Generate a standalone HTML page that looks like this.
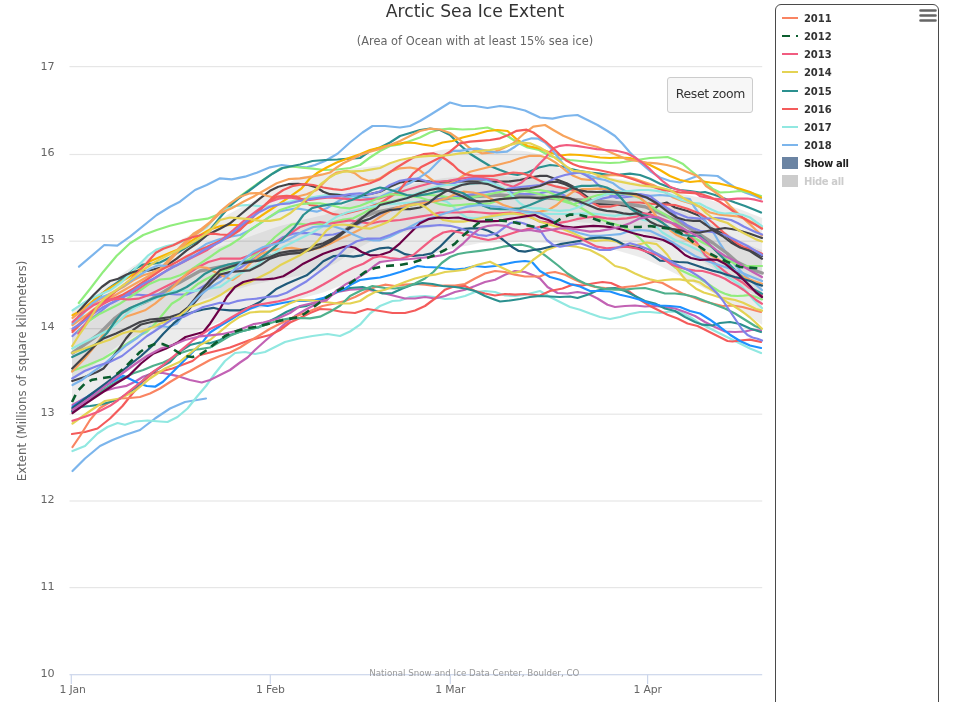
<!DOCTYPE html>
<html lang="en"><head><meta charset="utf-8"><title>Arctic Sea Ice Extent</title>
<style>
html,body{margin:0;padding:0;background:#fff;}
body{width:960px;height:702px;overflow:hidden;position:relative;font-family:"DejaVu Sans","Liberation Sans",sans-serif;}
.t{position:absolute;white-space:nowrap;line-height:1;}
.title{left:0;width:950px;text-align:center;top:3.4px;font-size:17.2px;color:#333;}
.sub{left:0;width:950px;text-align:center;top:36.3px;font-size:11.4px;color:#666;}
.yl{font-size:11.2px;color:#666;right:905.6px;text-align:right;letter-spacing:-0.2px;}
.xl{font-size:10.8px;letter-spacing:-0.15px;color:#666;top:684.5px;transform:translateX(-50%);}
.ytitle{left:22.7px;top:371px;font-size:11.8px;color:#666;transform:translate(-50%,-50%) rotate(-90deg);}
.credits{left:369.3px;top:668.9px;font-size:8.7px;color:#999;}
.btn{position:absolute;left:667.4px;top:77.3px;width:85.2px;height:36.2px;background:#f7f7f7;border:1px solid #ccc;border-radius:3px;box-sizing:border-box;}
.btn span{position:absolute;left:7.3px;top:9.6px;font-size:12.4px;letter-spacing:-0.3px;color:#333;white-space:nowrap;line-height:1;}
.legend{position:absolute;left:774.6px;top:4px;width:164.6px;height:720px;border:1.4px solid #4a4a4a;border-radius:6px;box-sizing:border-box;background:#fff;}
.li{position:absolute;left:28.3px;font-size:10px;font-weight:bold;color:#333;white-space:nowrap;line-height:1;}
.ls{position:absolute;left:6.4px;width:16px;height:2.2px;}
</style></head><body>
<svg width="960" height="702" viewBox="0 0 960 702" style="position:absolute;left:0;top:0">
<rect x="69.5" y="66.0" width="692.7" height="1.2" fill="#e6e6e6"/>
<rect x="69.5" y="153.9" width="692.7" height="1.2" fill="#e6e6e6"/>
<rect x="69.5" y="240.6" width="692.7" height="1.2" fill="#e6e6e6"/>
<rect x="69.5" y="328.1" width="692.7" height="1.2" fill="#e6e6e6"/>
<rect x="69.5" y="413.6" width="692.7" height="1.2" fill="#e6e6e6"/>
<rect x="69.5" y="500.4" width="692.7" height="1.2" fill="#e6e6e6"/>
<rect x="69.5" y="587.0" width="692.7" height="1.2" fill="#e6e6e6"/>
<path d="M72.0 310.0 L78.0 305.7 L84.0 301.4 L90.0 297.1 L96.0 292.9 L102.0 288.5 L108.0 284.1 L114.0 279.7 L120.0 275.3 L126.0 270.9 L132.0 266.8 L138.0 263.2 L144.0 259.6 L150.0 256.0 L156.0 252.4 L162.0 249.0 L168.0 246.0 L174.0 243.0 L180.0 240.0 L186.0 237.0 L192.0 234.0 L198.0 231.0 L204.0 227.8 L210.0 224.5 L216.0 221.2 L222.0 217.9 L228.0 214.6 L234.0 211.3 L240.0 208.0 L246.0 204.8 L252.0 201.6 L258.0 198.4 L264.0 195.2 L270.0 192.0 L276.0 189.0 L282.0 186.0 L288.0 183.0 L294.0 180.0 L300.0 177.0 L306.0 176.0 L312.0 175.0 L318.0 174.0 L324.0 173.0 L330.0 172.0 L336.0 171.1 L342.0 170.3 L348.0 169.4 L354.0 168.6 L360.0 167.7 L366.0 166.9 L372.0 166.2 L378.0 165.4 L384.0 164.7 L390.0 164.0 L396.0 162.3 L402.0 160.7 L408.0 159.1 L414.0 157.2 L420.0 155.3 L426.0 153.5 L432.0 152.0 L438.0 150.5 L444.0 149.4 L450.0 149.1 L456.0 148.7 L462.0 148.5 L468.0 148.6 L474.0 148.7 L480.0 148.9 L486.0 149.1 L492.0 149.2 L498.0 149.4 L504.0 149.7 L510.0 150.1 L516.0 150.5 L522.0 150.8 L528.0 151.6 L534.0 152.9 L540.0 154.7 L546.0 159.1 L552.0 163.4 L558.0 167.6 L564.0 169.8 L570.0 171.0 L576.0 172.2 L582.0 173.3 L588.0 174.2 L594.0 175.1 L600.0 176.0 L606.0 176.9 L612.0 177.8 L618.0 178.7 L624.0 179.8 L630.0 181.0 L636.0 182.2 L642.0 183.4 L648.0 184.9 L654.0 186.8 L660.0 188.6 L666.0 190.5 L672.0 192.1 L678.0 193.2 L684.0 194.4 L690.0 195.5 L696.0 196.7 L702.0 197.8 L708.0 199.5 L714.0 201.2 L720.0 203.0 L726.0 204.8 L732.0 206.5 L738.0 208.4 L744.0 210.8 L750.0 213.2 L756.0 215.5 L762.2 218.0 L762.2 325.0 L756.0 320.8 L750.0 316.8 L744.0 312.7 L738.0 308.7 L732.0 304.8 L726.0 300.9 L720.0 297.0 L714.0 293.7 L708.0 290.4 L702.0 287.1 L696.0 284.0 L690.0 281.0 L684.0 278.0 L678.0 275.0 L672.0 272.0 L666.0 269.0 L660.0 266.0 L654.0 263.3 L648.0 260.6 L642.0 257.9 L636.0 255.9 L630.0 254.2 L624.0 252.5 L618.0 250.8 L612.0 249.4 L606.0 248.2 L600.0 247.0 L594.0 245.8 L588.0 244.9 L582.0 244.7 L576.0 244.4 L570.0 244.2 L564.0 243.9 L558.0 243.6 L552.0 243.2 L546.0 242.9 L540.0 242.5 L534.0 242.3 L528.0 242.2 L522.0 242.1 L516.0 242.1 L510.0 242.2 L504.0 242.4 L498.0 242.6 L492.0 242.7 L486.0 242.8 L480.0 243.0 L474.0 244.2 L468.0 245.4 L462.0 246.6 L456.0 248.0 L450.0 249.6 L444.0 251.1 L438.0 252.7 L432.0 254.1 L426.0 255.0 L420.0 255.8 L414.0 256.7 L408.0 257.5 L402.0 258.5 L396.0 259.5 L390.0 260.5 L384.0 262.3 L378.0 265.2 L372.0 268.0 L366.0 271.6 L360.0 275.5 L354.0 279.4 L348.0 282.8 L342.0 285.2 L336.0 287.6 L330.0 290.0 L324.0 292.3 L318.0 294.0 L312.0 295.6 L306.0 297.3 L300.0 299.0 L294.0 300.4 L288.0 301.9 L282.0 303.3 L276.0 304.8 L270.0 306.0 L264.0 307.2 L258.0 308.4 L252.0 309.6 L246.0 311.6 L240.0 314.0 L234.0 316.4 L228.0 318.8 L222.0 321.2 L216.0 323.6 L210.0 326.0 L204.0 328.4 L198.0 331.3 L192.0 335.2 L186.0 339.1 L180.0 343.0 L174.0 346.3 L168.0 349.0 L162.0 351.7 L156.0 354.3 L150.0 357.0 L144.0 360.4 L138.0 363.8 L132.0 367.2 L126.0 370.7 L120.0 374.7 L114.0 378.7 L108.0 382.7 L102.0 386.7 L96.0 390.7 L90.0 394.8 L84.0 398.9 L78.0 402.9 L72.0 407.0Z" fill="#000" fill-opacity="0.075"/><path d="M72.0 334.9 L78.0 330.9 L84.0 326.6 L90.0 322.4 L96.0 318.1 L102.0 313.2 L108.0 307.8 L114.0 302.5 L120.0 297.9 L126.0 294.0 L132.0 290.7 L138.0 287.6 L144.0 284.6 L150.0 281.5 L156.0 277.9 L162.0 274.4 L168.0 271.1 L174.0 267.7 L180.0 264.5 L186.0 261.3 L192.0 258.1 L198.0 254.8 L204.0 252.4 L210.0 250.3 L216.0 248.2 L222.0 246.1 L228.0 244.1 L234.0 242.0 L240.0 239.9 L246.0 237.9 L252.0 235.8 L258.0 233.6 L264.0 231.4 L270.0 229.2 L276.0 227.2 L282.0 225.5 L288.0 223.9 L294.0 222.2 L300.0 220.5 L306.0 219.1 L312.0 217.7 L318.0 216.3 L324.0 214.9 L330.0 212.6 L336.0 210.2 L342.0 206.9 L348.0 203.3 L354.0 200.3 L360.0 197.6 L366.0 195.4 L372.0 193.7 L378.0 192.4 L384.0 191.4 L390.0 190.4 L396.0 189.0 L402.0 187.6 L408.0 186.0 L414.0 184.3 L420.0 182.7 L426.0 181.4 L432.0 180.2 L438.0 179.1 L444.0 178.1 L450.0 177.4 L456.0 177.1 L462.0 176.8 L468.0 176.6 L474.0 176.5 L480.0 176.3 L486.0 176.2 L492.0 176.1 L498.0 175.9 L504.0 176.1 L510.0 176.5 L516.0 176.9 L522.0 177.3 L528.0 177.8 L534.0 178.6 L540.0 179.6 L546.0 181.6 L552.0 183.6 L558.0 185.6 L564.0 186.8 L570.0 187.5 L576.0 188.2 L582.0 188.9 L588.0 189.5 L594.0 190.2 L600.0 190.8 L606.0 191.4 L612.0 192.1 L618.0 192.7 L624.0 193.6 L630.0 194.6 L636.0 195.6 L642.0 196.7 L648.0 198.3 L654.0 200.6 L660.0 202.9 L666.0 205.2 L672.0 207.4 L678.0 209.4 L684.0 211.9 L690.0 214.6 L696.0 217.3 L702.0 220.0 L708.0 222.9 L714.0 225.9 L720.0 229.2 L726.0 232.4 L732.0 236.2 L738.0 239.7 L744.0 242.5 L750.0 245.2 L756.0 247.7 L762.2 249.9 L762.2 299.0 L756.0 295.9 L750.0 292.6 L744.0 289.1 L738.0 285.5 L732.0 281.2 L726.0 276.7 L720.0 272.6 L714.0 268.7 L708.0 265.1 L702.0 261.6 L696.0 258.1 L690.0 254.7 L684.0 251.3 L678.0 248.1 L672.0 245.3 L666.0 242.4 L660.0 239.6 L654.0 237.0 L648.0 234.3 L642.0 232.1 L636.0 230.6 L630.0 229.3 L624.0 228.1 L618.0 226.8 L612.0 225.9 L606.0 225.1 L600.0 224.2 L594.0 223.4 L588.0 222.8 L582.0 222.4 L576.0 222.1 L570.0 221.8 L564.0 221.5 L558.0 221.1 L552.0 220.8 L546.0 220.4 L540.0 220.0 L534.0 219.8 L528.0 219.5 L522.0 219.2 L516.0 219.1 L510.0 218.9 L504.0 218.8 L498.0 218.8 L492.0 219.1 L486.0 219.3 L480.0 219.6 L474.0 220.4 L468.0 221.2 L462.0 221.9 L456.0 222.8 L450.0 223.8 L444.0 225.0 L438.0 226.3 L432.0 227.4 L426.0 228.3 L420.0 229.2 L414.0 230.3 L408.0 231.5 L402.0 232.7 L396.0 233.9 L390.0 235.0 L384.0 236.5 L378.0 238.5 L372.0 240.9 L366.0 243.9 L360.0 247.3 L354.0 251.3 L348.0 255.3 L342.0 259.3 L336.0 263.0 L330.0 266.0 L324.0 268.8 L318.0 270.5 L312.0 272.1 L306.0 273.8 L300.0 275.5 L294.0 276.6 L288.0 277.7 L282.0 278.7 L276.0 279.8 L270.0 281.1 L264.0 282.4 L258.0 283.7 L252.0 285.1 L246.0 286.7 L240.0 288.5 L234.0 290.3 L228.0 292.1 L222.0 293.9 L216.0 295.7 L210.0 297.5 L204.0 299.3 L198.0 301.7 L192.0 305.3 L186.0 309.0 L180.0 312.6 L174.0 316.0 L168.0 319.1 L162.0 322.2 L156.0 325.4 L150.0 328.5 L144.0 331.5 L138.0 334.6 L132.0 337.6 L126.0 340.7 L120.0 344.5 L114.0 348.8 L108.0 353.8 L102.0 358.8 L96.0 363.6 L90.0 367.7 L84.0 371.9 L78.0 376.0 L72.0 380.0Z" fill="#000" fill-opacity="0.06"/>
<g fill="none" stroke-width="2.2" stroke-linejoin="round" stroke-linecap="round">
<path d="M79.0 266.7 L104.3 245.0 L117.3 245.7 L130.0 236.7 L156.7 215.0 L170.0 206.7 L180.0 201.7 L195.0 190.0 L206.7 185.0 L220.0 178.3 L231.7 179.3 L245.0 176.7 L256.7 172.7 L270.0 167.3 L281.7 165.0 L293.3 166.7 L306.7 167.3 L315.0 165.0 L325.0 161.0 L337.5 153.7 L350.0 142.5 L362.5 132.5 L372.5 126.0 L385.0 126.0 L400.0 127.5 L410.0 126.0 L420.0 121.0 L430.0 115.0 L440.0 108.7 L450.0 102.5 L462.5 106.0 L475.0 106.0 L487.5 108.0 L500.0 106.0 L512.5 107.5 L525.0 110.5 L540.0 117.5 L552.5 118.7 L565.0 116.0 L577.5 115.0 L587.5 120.0 L597.5 125.0 L607.5 131.0 L615.0 136.0 L622.5 143.7 L630.0 152.5 L640.0 162.5 L650.0 171.0 L660.0 177.5 L670.0 181.0 L680.0 182.5 L690.0 178.7 L700.0 175.0 L710.0 175.5 L717.5 176.0 L725.0 181.0 L735.0 187.5 L745.0 192.5 L755.0 196.0 L761.0 198.7" stroke="#7cb5ec"/>
<path d="M78.8 303.0 L90.0 289.0 L103.3 271.7 L116.7 255.8 L130.0 243.3 L143.3 235.0 L156.7 230.0 L170.0 225.8 L190.0 221.0 L207.5 218.7 L220.0 213.7 L235.0 200.0 L257.5 183.7 L280.0 168.7 L292.0 166.5 L300.0 167.5 L312.5 168.7 L325.0 170.0 L337.5 169.5 L350.0 168.0 L360.0 165.0 L370.0 157.5 L380.0 151.0 L390.0 146.0 L400.0 144.5 L410.0 141.0 L420.0 137.5 L430.0 132.5 L440.0 129.5 L450.0 128.7 L462.5 129.5 L475.0 129.0 L487.5 127.5 L497.5 131.0 L507.5 136.0 L517.5 142.5 L527.5 147.5 L539.0 150.0 L550.0 156.0 L560.0 158.7 L570.0 160.0 L580.0 161.0 L590.0 162.0 L600.0 162.5 L610.0 163.0 L620.0 162.5 L630.0 161.0 L640.0 159.5 L650.0 158.0 L660.0 157.5 L667.5 157.0 L675.0 160.0 L682.5 163.7 L690.0 170.0 L697.5 176.0 L705.0 182.5 L712.5 188.7 L720.0 192.5 L730.0 192.0 L740.0 191.0 L750.0 192.5 L761.0 196.0" stroke="#90ed7d"/>
<path d="M78.3 317.0 L88.3 305.3 L98.3 297.0 L108.3 288.7 L116.7 282.8 L126.7 275.3 L135.0 268.7 L143.3 264.5 L153.3 263.7 L160.0 262.5 L170.0 257.5 L190.0 245.0 L200.0 240.0 L210.0 230.0 L220.0 217.5 L230.0 206.0 L240.0 197.5 L250.0 190.0 L260.0 182.5 L272.5 173.7 L282.5 168.0 L292.5 166.0 L300.0 164.5 L312.5 161.0 L325.0 160.0 L337.5 159.5 L350.0 158.7 L360.0 158.0 L370.0 151.0 L380.0 147.5 L390.0 142.5 L400.0 136.0 L410.0 133.0 L420.0 130.0 L430.0 128.7 L440.0 130.0 L450.0 135.0 L460.0 145.0 L470.0 153.7 L480.0 160.0 L490.0 166.0 L500.0 170.0 L510.0 173.7 L517.5 175.0 L527.5 172.5 L539.0 167.5 L550.0 165.0 L560.0 166.0 L570.0 168.7 L580.0 171.0 L590.0 172.5 L600.0 173.7 L610.0 175.0 L620.0 174.5 L630.0 173.7 L640.0 175.0 L650.0 178.7 L660.0 183.7 L670.0 187.5 L680.0 190.0 L690.0 191.0 L700.0 192.5 L705.0 192.0 L715.0 195.0 L725.0 198.7 L735.0 202.5 L745.0 206.0 L755.0 210.0 L761.0 212.5" stroke="#2b908f"/>
<path d="M72.5 315.3 L81.7 310.3 L91.7 302.0 L101.7 293.7 L111.7 287.0 L121.7 281.2 L131.7 275.3 L141.7 267.8 L150.0 261.2 L160.0 257.0 L170.0 252.8 L180.0 248.7 L190.0 242.0 L200.0 235.3 L210.0 229.5 L220.0 226.2 L230.0 225.0 L240.0 225.0 L250.0 222.5 L260.0 216.7 L270.0 210.0 L280.0 203.3 L290.0 196.7 L301.7 188.3 L310.0 178.3 L316.7 173.3 L326.7 167.5 L336.7 162.5 L348.3 158.3 L360.0 154.2 L370.0 150.0 L380.0 147.5 L385.0 146.0 L395.0 144.5 L405.0 142.5 L415.0 143.0 L422.5 144.5 L432.5 146.0 L442.5 142.5 L452.5 141.0 L462.5 137.5 L475.0 134.5 L487.5 131.0 L497.5 130.0 L507.5 131.0 L517.5 140.0 L527.5 146.0 L540.0 148.7 L550.0 152.5 L560.0 155.5 L570.0 154.5 L580.0 155.0 L590.0 156.0 L600.0 157.5 L610.0 158.0 L620.0 157.5 L630.0 158.0 L640.0 161.0 L650.0 165.0 L660.0 170.0 L670.0 176.0 L680.0 180.0 L690.0 182.0 L700.0 181.0 L710.0 182.5 L720.0 183.7 L730.0 186.0 L740.0 188.7 L750.0 192.0 L761.0 197.5" stroke="#f9b300"/>
<path d="M72.5 471.0 L85.0 458.5 L100.0 446.0 L112.5 440.0 L125.0 435.0 L140.0 430.0 L155.0 418.5 L170.0 408.5 L185.0 402.0 L206.0 398.5" stroke="#7cb5ec"/>
<path d="M72.5 451.0 L85.0 446.0 L97.5 433.5 L107.5 427.0 L117.5 423.0 L125.0 424.7 L135.0 421.5 L147.5 420.5 L160.0 421.5 L167.5 422.0 L177.5 417.0 L187.5 408.5 L197.5 396.0 L206.0 386.0 L215.0 373.5 L225.0 361.0 L235.0 353.0 L245.0 352.0 L255.0 354.0 L265.0 352.0 L275.0 347.0 L285.0 342.0 L299.0 338.5 L312.5 336.0 L327.5 334.0 L340.0 336.0 L350.0 331.5 L360.0 324.7 L370.0 313.5 L380.0 306.0 L392.5 301.0 L400.0 300.5 L410.0 297.0 L425.0 296.0 L435.0 297.0 L445.0 299.0 L455.0 298.5 L465.0 296.0 L475.0 292.0 L485.0 291.0 L495.0 292.0 L505.0 295.5 L515.0 296.0 L525.0 294.7 L540.0 291.0 L550.0 297.0 L560.0 302.0 L570.0 307.0 L580.0 309.7 L590.0 313.5 L600.0 317.0 L610.0 319.0 L620.0 317.0 L630.0 314.0 L640.0 312.0 L650.0 312.0 L660.0 313.0 L670.0 311.5 L680.0 312.0 L690.0 317.0 L700.0 323.5 L710.0 328.5 L720.0 333.5 L730.0 338.5 L740.0 343.5 L750.0 348.5 L761.0 353.0" stroke="#91e8e1"/>
<path d="M72.5 405.0 L85.0 398.0 L101.7 391.7 L115.0 388.0 L126.7 385.8 L135.0 381.7 L143.0 376.7 L153.0 373.0 L163.0 373.0 L176.7 375.8 L190.0 380.0 L201.7 382.5 L210.0 380.0 L220.0 375.0 L230.0 370.0 L240.0 362.5 L247.5 357.5 L255.0 350.0 L265.0 341.0 L275.0 332.5 L285.0 323.7 L295.0 316.0 L305.0 310.0 L312.5 306.0 L325.0 298.5 L337.5 292.0 L350.0 289.7 L362.5 289.0 L375.0 291.0 L385.0 293.5 L395.0 296.0 L405.0 298.5 L415.0 298.5 L425.0 297.0 L435.0 298.5 L445.0 296.0 L455.0 292.0 L465.0 289.7 L475.0 286.0 L485.0 282.0 L495.0 279.7 L505.0 274.7 L515.0 271.0 L525.0 272.0 L535.0 276.0 L540.0 278.5 L547.5 287.0 L557.5 293.0 L567.5 293.5 L577.5 292.0 L587.5 293.5 L597.5 298.5 L607.5 304.7 L615.0 307.0 L625.0 306.0 L635.0 305.5 L645.0 306.5 L655.0 306.0 L665.0 307.0 L675.0 308.5 L685.0 312.0 L695.0 316.0 L705.0 322.0 L715.0 327.0 L725.0 331.5 L735.0 332.0 L745.0 331.5 L752.5 329.7 L761.0 330.5" stroke="#c262b4"/>
<path d="M72.0 434.0 L85.0 432.0 L97.5 428.5 L110.0 418.5 L122.5 406.0 L132.5 393.5 L142.5 382.0 L152.5 373.5 L162.5 371.0 L172.5 368.5 L182.5 364.7 L192.5 361.0 L200.0 355.0 L210.0 352.5 L220.0 350.0 L230.0 347.5 L240.0 343.7 L250.0 340.0 L260.0 337.5 L270.0 335.0 L280.0 330.0 L290.0 322.5 L300.0 318.0 L310.0 313.0 L320.0 309.0 L330.0 309.5 L342.5 312.0 L355.0 313.0 L367.5 309.0 L380.0 311.0 L392.5 313.0 L405.0 313.0 L415.0 310.5 L425.0 306.0 L435.0 298.5 L445.0 289.7 L455.0 286.0 L465.0 286.0 L475.0 291.0 L485.0 293.5 L495.0 295.5 L505.0 294.0 L515.0 294.7 L525.0 294.0 L540.0 295.5 L550.0 291.0 L562.5 288.5 L572.5 284.7 L582.5 285.5 L592.5 283.5 L602.5 282.0 L611.0 283.0 L620.0 287.0 L630.0 292.0 L640.0 299.7 L650.0 306.0 L660.0 311.0 L667.5 314.7 L677.5 318.5 L687.5 323.5 L697.5 326.0 L707.5 331.0 L717.5 336.0 L727.5 341.0 L732.5 341.5 L740.0 340.5 L750.0 339.7 L761.0 342.0" stroke="#f45b5b"/>
<path d="M72.5 447.0 L80.0 436.0 L90.0 420.0 L100.0 408.0 L110.0 402.0 L120.0 398.5 L130.0 398.0 L140.0 397.0 L150.0 393.5 L160.0 388.5 L170.0 382.0 L180.0 376.0 L190.0 371.0 L200.0 365.5 L210.0 360.0 L220.0 356.0 L230.0 352.5 L240.0 347.5 L250.0 341.0 L260.0 335.0 L270.0 328.7 L280.0 323.7 L290.0 318.7 L300.0 314.7 L310.0 311.0 L322.5 306.0 L335.0 303.5 L345.0 301.0 L355.0 297.0 L365.0 292.0 L375.0 287.0 L385.0 284.7 L395.0 286.0 L405.0 284.7 L415.0 284.0 L425.0 284.7 L435.0 286.0 L445.0 285.5 L455.0 285.5 L465.0 284.0 L475.0 278.5 L485.0 273.5 L495.0 271.0 L505.0 272.0 L515.0 274.7 L525.0 276.5 L540.0 276.5 L547.5 273.0 L555.0 272.0 L565.0 274.7 L575.0 279.7 L585.0 284.0 L595.0 287.0 L605.0 288.0 L615.0 288.5 L625.0 287.0 L635.0 286.0 L645.0 284.0 L655.0 281.5 L662.5 283.0 L672.5 288.5 L682.5 293.5 L692.5 297.0 L702.5 301.0 L712.5 303.5 L722.5 306.0 L732.5 305.5 L742.5 307.0 L752.5 309.7 L761.0 312.0" stroke="#f98462"/>
<path d="M72.0 411.0 L80.0 407.0 L90.0 406.0 L100.0 404.7 L110.0 402.0 L120.0 398.5 L130.0 392.0 L140.0 383.5 L147.5 376.0 L155.0 371.0 L162.5 366.0 L170.0 362.0 L180.0 351.7 L190.0 345.0 L200.0 342.5 L210.0 343.3 L220.0 340.0 L230.0 335.0 L240.0 331.7 L250.0 329.2 L258.3 327.5 L266.7 322.5 L276.7 317.5 L286.7 311.7 L296.7 307.5 L306.7 305.8 L316.7 301.7 L326.7 296.7 L336.7 291.7 L350.0 288.0 L362.5 287.0 L372.5 289.7 L382.5 293.5 L392.5 293.0 L402.5 288.5 L412.5 284.7 L422.5 283.0 L432.5 284.0 L442.5 286.0 L455.0 287.0 L465.0 288.5 L475.0 291.0 L485.0 296.0 L495.0 299.7 L500.0 301.5 L510.0 300.5 L520.0 299.0 L530.0 297.0 L540.0 296.0 L550.0 296.5 L560.0 297.0 L570.0 296.5 L577.5 298.0 L587.5 294.7 L597.5 290.5 L607.5 288.5 L615.0 288.0 L625.0 291.0 L635.0 296.0 L645.0 301.0 L655.0 303.5 L665.0 308.5 L675.0 311.0 L685.0 317.0 L695.0 322.0 L702.5 324.7 L712.5 325.5 L720.0 323.0 L730.0 322.0 L740.0 324.0 L750.0 328.5 L761.0 332.0" stroke="#2b908f"/>
<path d="M72.5 407.0 L93.0 393.0 L110.0 383.0 L123.3 375.8 L130.0 379.0 L138.0 383.0 L146.7 386.0 L155.0 386.7 L163.0 381.7 L173.0 371.7 L183.0 361.7 L193.0 351.7 L203.0 341.7 L210.0 332.5 L220.0 326.0 L230.0 320.0 L240.0 313.7 L250.0 308.7 L260.0 305.0 L267.5 306.0 L275.0 304.5 L285.0 302.5 L295.0 301.0 L305.0 301.0 L315.0 300.0 L325.0 297.5 L335.0 292.5 L345.0 288.7 L352.5 283.7 L360.0 280.0 L370.0 278.7 L380.0 277.5 L390.0 275.0 L400.0 272.0 L410.0 268.7 L417.5 266.0 L425.0 267.0 L439.0 267.5 L445.0 268.5 L455.0 269.7 L465.0 268.5 L475.0 266.0 L485.0 267.0 L495.0 266.0 L505.0 264.0 L515.0 262.0 L525.0 261.0 L532.0 262.0 L540.0 271.0 L550.0 277.0 L560.0 279.7 L570.0 284.0 L580.0 286.5 L590.0 291.0 L600.0 291.0 L610.0 291.5 L620.0 294.7 L630.0 297.0 L640.0 299.7 L650.0 303.5 L660.0 305.5 L670.0 306.0 L680.0 307.0 L690.0 311.0 L700.0 313.5 L710.0 319.7 L720.0 327.0 L730.0 334.7 L740.0 341.0 L750.0 345.5 L761.0 348.0" stroke="#1e90ff"/>
<path d="M72.5 409.0 L86.0 401.0 L100.0 392.0 L112.0 384.5 L123.3 378.3 L133.3 373.3 L143.3 370.0 L153.3 365.8 L163.3 362.5 L170.0 359.2 L180.0 353.3 L190.0 350.0 L200.0 349.2 L210.0 347.5 L220.0 341.7 L230.0 335.8 L240.0 331.7 L250.0 329.2 L260.0 326.7 L270.0 323.3 L280.0 320.0 L290.0 318.3 L300.0 318.0 L310.0 318.3 L320.0 316.7 L330.0 311.7 L340.0 305.8 L350.0 296.0 L360.0 291.0 L372.5 286.0 L385.0 288.0 L395.0 288.5 L405.0 287.0 L415.0 283.5 L425.0 278.5 L433.3 272.0 L441.7 263.0 L450.0 257.0 L458.0 254.0 L466.7 252.5 L480.0 250.8 L493.0 249.0 L503.0 246.7 L513.0 245.0 L521.7 244.7 L530.0 246.7 L540.0 251.7 L546.7 256.7 L558.7 266.0 L567.5 273.5 L577.5 279.7 L585.0 283.5 L595.0 286.5 L605.0 289.0 L615.0 289.7 L625.0 289.7 L635.0 288.5 L645.0 288.0 L655.0 290.5 L665.0 293.5 L675.0 293.5 L685.0 294.7 L695.0 297.0 L705.0 301.0 L715.0 304.7 L725.0 308.5 L735.0 313.5 L745.0 319.7 L755.0 326.0 L761.0 328.5" stroke="#4fb08c"/>
<path d="M72.5 423.5 L90.0 411.0 L105.0 401.0 L120.0 398.5 L135.0 391.0 L150.0 378.5 L165.0 368.5 L180.0 361.7 L190.0 353.3 L200.0 345.0 L210.0 340.0 L220.0 331.7 L230.0 323.3 L240.0 316.7 L250.0 312.5 L260.0 311.7 L270.0 311.7 L280.0 308.3 L290.0 303.3 L296.7 300.8 L300.0 300.0 L312.5 300.5 L325.0 302.0 L337.5 303.5 L350.0 303.5 L360.0 301.0 L367.5 296.0 L375.0 292.0 L385.0 289.7 L395.0 286.0 L405.0 282.0 L415.0 278.5 L425.0 276.0 L435.0 274.7 L445.0 272.0 L455.0 271.0 L465.0 269.7 L476.7 265.0 L490.0 261.7 L500.0 266.7 L513.0 273.0 L520.0 271.7 L533.0 260.0 L546.7 250.0 L560.0 245.0 L576.7 246.7 L590.0 250.0 L603.0 256.7 L615.0 266.0 L625.0 268.5 L635.0 273.5 L643.0 277.0 L650.0 279.4 L657.5 281.0 L665.0 280.0 L672.5 279.4 L680.0 279.4 L687.5 280.6 L693.7 280.6 L700.0 282.5 L705.0 286.0 L710.0 288.7 L716.0 292.5 L721.0 297.5 L727.5 302.5 L733.7 306.0 L740.0 310.0 L745.0 313.7 L750.0 317.5 L755.0 322.0 L758.7 325.6 L762.0 328.7" stroke="#e4d354"/>
<path d="M72.5 310.3 L85.0 302.0 L98.3 295.3 L110.0 290.3 L121.7 282.0 L131.7 272.0 L140.0 263.7 L148.3 255.3 L156.7 249.5 L166.7 246.0 L176.7 243.7 L186.7 239.5 L196.7 233.7 L206.7 227.0 L214.0 219.0 L220.0 213.3 L228.3 208.3 L236.7 205.8 L246.7 205.0 L256.7 205.8 L266.7 206.7 L276.7 205.0 L286.7 202.5 L296.7 200.0 L306.7 198.3 L316.7 196.7 L326.7 195.0 L336.7 194.2 L346.7 195.8 L356.7 198.3 L366.7 200.8 L373.3 203.3 L380.0 204.2 L390.0 204.2 L400.0 203.3 L410.0 202.5 L420.0 201.7 L430.0 200.8 L440.0 200.0 L446.7 201.7 L453.3 206.7 L460.0 213.3 L466.7 217.5 L473.3 218.3 L490.0 217.0 L510.0 214.0 L530.0 213.0 L550.0 214.0 L570.0 214.0 L590.0 213.3 L606.7 215.0 L615.0 215.8 L623.3 214.2 L633.3 215.8 L643.3 220.0 L650.0 221.0 L662.5 232.5 L675.0 240.0 L687.5 245.0 L700.0 251.0 L710.0 260.0 L717.5 268.7 L725.0 275.0 L732.5 280.0 L740.0 285.0 L747.5 292.5 L753.7 300.0 L758.7 305.0 L762.0 308.0" stroke="#91e8e1"/>
<path d="M78.0 312.0 L93.3 295.3 L101.7 287.0 L110.0 281.0 L118.3 278.7 L126.7 274.5 L133.3 272.0 L140.0 270.3 L146.7 271.0 L153.3 269.5 L160.0 267.8 L166.7 265.3 L176.7 258.7 L186.7 250.3 L196.7 243.7 L206.7 235.3 L220.0 228.7 L230.0 223.3 L240.0 215.0 L250.0 206.7 L260.0 198.3 L270.0 190.8 L278.3 186.7 L288.3 184.2 L298.3 183.8 L308.3 185.0 L316.7 187.5 L323.3 191.7 L330.0 194.2 L340.0 195.0 L350.0 196.0 L360.0 196.0 L370.0 194.0 L380.0 191.7 L390.0 186.7 L400.0 182.5 L410.0 180.8 L420.0 180.8 L430.0 181.7 L440.0 182.0 L450.0 181.7 L460.0 181.3 L470.0 181.3 L480.0 181.7 L490.0 181.7 L500.0 181.7 L510.0 181.3 L520.0 180.0 L530.0 177.5 L540.0 175.8 L546.7 175.8 L553.3 178.3 L560.0 180.8 L566.7 183.3 L573.3 186.7 L580.0 191.7 L586.7 196.7 L593.3 201.7 L600.0 204.2 L610.0 204.2 L620.0 205.0 L630.0 206.7 L640.0 211.7 L646.7 215.0 L653.3 210.0 L660.0 204.2 L666.7 202.5 L675.0 207.5 L687.5 211.0 L700.0 216.0 L705.0 221.0 L710.0 227.5 L717.5 231.0 L725.0 235.0 L731.0 240.0 L737.5 245.0 L743.7 248.0 L750.0 250.6 L756.0 253.0 L762.0 256.0" stroke="#434348"/>
<path d="M72.5 317.8 L85.0 308.7 L98.3 300.3 L110.0 293.7 L123.3 287.0 L133.3 280.3 L143.3 275.3 L151.7 272.8 L160.0 268.7 L166.7 262.0 L173.3 254.5 L180.0 247.0 L186.7 240.3 L193.3 233.7 L201.7 228.7 L210.0 222.0 L220.0 211.7 L230.0 203.3 L240.0 196.7 L250.0 193.3 L258.3 193.0 L266.7 195.8 L276.7 198.3 L286.7 197.5 L296.7 196.7 L306.7 194.2 L316.7 190.0 L323.3 183.3 L330.0 176.7 L336.7 172.5 L346.7 170.8 L355.0 173.3 L361.7 178.3 L368.3 180.8 L375.0 180.0 L380.0 178.3 L390.0 171.7 L400.0 168.3 L410.0 167.5 L418.3 169.2 L426.7 175.8 L433.3 180.8 L440.0 184.2 L450.0 183.3 L456.7 180.0 L463.3 175.8 L470.0 171.7 L480.0 169.2 L490.0 166.7 L500.0 164.2 L510.0 161.7 L520.0 158.3 L530.0 155.8 L540.0 155.8 L548.3 158.3 L556.7 163.3 L565.0 170.0 L573.3 175.8 L581.7 179.2 L590.0 180.0 L596.7 177.5 L603.3 175.8 L613.3 175.0 L623.3 175.8 L633.3 178.3 L643.3 181.7 L653.3 185.0 L660.0 188.3 L666.7 193.3 L673.3 197.5 L681.7 200.8 L690.0 203.3 L700.0 206.7 L710.0 212.5 L720.0 214.7 L730.0 215.6 L737.5 216.5 L745.0 218.7 L752.5 222.5 L757.5 225.6 L762.0 228.0" stroke="#f7a35c"/>
<path d="M72.5 325.0 L85.0 316.0 L98.0 306.0 L112.0 297.0 L126.0 289.0 L140.0 281.0 L152.0 274.0 L163.0 268.0 L172.0 258.0 L182.0 247.0 L192.0 237.0 L203.0 229.0 L212.0 221.0 L220.0 213.3 L231.7 208.3 L243.3 201.7 L253.3 196.7 L265.0 190.0 L276.7 183.3 L288.3 179.2 L300.0 178.3 L311.7 176.7 L321.7 174.7 L330.0 172.5 L336.7 167.5 L343.3 163.3 L351.7 159.2 L360.0 155.0 L370.0 151.7 L380.0 149.0 L387.5 146.0 L400.0 141.0 L410.0 136.0 L420.0 131.0 L430.0 128.7 L440.0 129.5 L450.0 133.0 L460.0 140.0 L470.0 148.3 L481.7 153.3 L493.3 152.5 L503.3 148.3 L513.3 143.3 L523.3 134.2 L533.3 126.7 L545.0 125.0 L553.3 130.0 L563.3 135.8 L575.0 140.8 L586.7 144.2 L596.7 146.7 L606.7 150.8 L616.7 155.0 L626.7 159.2 L636.7 160.8 L646.7 162.5 L656.7 163.3 L666.7 165.0 L676.7 167.5 L686.7 171.7 L696.7 175.8 L700.0 178.3 L706.0 186.0 L715.0 192.0 L722.5 197.5 L730.0 206.0 L737.5 213.0 L743.7 218.7 L750.0 224.4 L756.0 230.0 L762.0 235.6" stroke="#f7a35c"/>
<path d="M72.5 323.7 L81.7 315.3 L91.7 303.7 L101.7 297.0 L111.7 293.7 L121.7 287.0 L131.7 280.3 L141.7 273.7 L150.0 268.7 L158.3 265.3 L168.3 266.2 L176.7 265.3 L186.7 258.7 L196.7 250.3 L206.7 243.7 L220.0 239.0 L230.0 236.7 L240.0 235.0 L250.0 230.0 L260.0 223.3 L270.0 216.7 L278.3 211.7 L286.7 210.0 L296.7 208.3 L306.7 210.0 L316.7 211.7 L326.7 208.3 L335.0 203.3 L343.3 198.3 L353.3 195.8 L361.7 196.7 L370.0 198.3 L380.0 197.0 L395.0 190.0 L410.0 183.0 L418.3 178.3 L428.3 171.7 L436.7 163.3 L445.0 155.0 L453.3 150.8 L460.0 150.8 L470.0 149.2 L476.7 148.7 L486.7 150.8 L496.7 152.5 L506.7 151.7 L515.0 146.7 L523.3 140.8 L531.7 138.3 L538.3 138.7 L545.0 142.5 L551.7 149.2 L558.3 157.5 L565.0 166.7 L571.7 173.3 L580.0 172.5 L588.3 175.0 L596.7 178.3 L605.0 180.0 L613.3 183.3 L620.0 188.3 L623.3 190.0 L630.0 193.3 L640.0 195.0 L650.0 195.8 L660.0 195.0 L670.0 195.8 L680.0 197.5 L690.0 199.2 L693.7 206.0 L700.0 215.0 L705.0 221.0 L710.0 227.5 L715.0 235.0 L720.0 243.7 L725.0 251.0 L731.0 258.5 L735.0 265.0 L742.5 273.0 L750.0 280.0 L756.0 285.0 L762.0 290.0" stroke="#7cb5ec"/>
<path d="M72.5 322.0 L81.7 313.7 L93.3 305.3 L105.0 300.3 L115.0 298.7 L126.7 295.3 L136.7 290.3 L146.7 283.7 L156.7 277.0 L166.7 270.3 L176.7 265.3 L186.7 260.3 L196.7 255.3 L206.7 250.3 L220.0 241.0 L233.3 230.0 L246.7 218.3 L260.0 208.3 L270.0 201.7 L280.0 198.3 L290.0 197.5 L300.0 199.2 L310.0 200.0 L320.0 198.3 L330.0 197.5 L340.0 198.3 L350.0 199.2 L360.0 200.0 L370.0 199.2 L380.0 198.3 L400.0 192.0 L420.0 186.0 L435.0 182.0 L448.3 180.8 L458.3 179.2 L468.3 177.5 L480.0 177.5 L490.0 179.2 L496.7 180.0 L505.0 184.2 L513.3 186.7 L521.7 182.5 L530.0 175.0 L536.7 166.7 L540.0 163.3 L545.0 158.3 L550.0 151.7 L553.3 148.3 L560.0 145.8 L566.7 145.0 L576.7 145.8 L586.7 147.5 L596.7 149.2 L606.7 150.0 L616.7 150.8 L626.7 153.3 L635.0 157.5 L643.3 163.3 L650.0 169.2 L656.7 175.8 L663.3 181.7 L670.0 186.7 L678.3 190.0 L686.7 191.7 L695.0 192.5 L700.0 196.2 L712.5 198.7 L725.0 199.7 L737.5 198.7 L747.5 198.5 L755.0 199.7 L762.0 201.5" stroke="#f15c80"/>
<path d="M72.5 332.0 L85.0 320.0 L100.0 305.0 L115.0 292.0 L130.0 280.0 L145.0 265.0 L155.8 252.8 L163.3 248.7 L173.3 245.3 L183.3 240.3 L193.3 237.0 L203.3 234.5 L213.3 233.7 L220.0 234.5 L230.0 235.0 L236.7 231.7 L245.0 225.0 L253.3 216.7 L263.3 206.7 L273.3 196.7 L283.3 190.0 L293.3 185.8 L303.3 184.2 L313.3 185.0 L323.3 187.5 L333.3 189.2 L341.7 190.0 L350.0 188.3 L360.0 185.8 L370.0 183.3 L380.0 179.2 L388.3 173.3 L396.7 167.5 L405.0 162.5 L413.3 157.5 L423.3 154.2 L433.3 153.3 L440.0 155.8 L446.7 160.0 L453.3 165.0 L458.3 170.0 L465.0 174.2 L473.3 175.8 L483.3 175.8 L493.3 175.8 L503.3 174.2 L513.3 172.5 L521.7 173.3 L530.0 175.8 L540.0 180.8 L548.3 184.2 L556.7 186.7 L565.0 188.3 L573.3 190.0 L580.0 193.3 L586.7 198.3 L593.3 203.3 L600.0 206.7 L610.0 206.7 L620.0 204.2 L630.0 202.5 L640.0 202.5 L650.0 203.7 L662.5 204.4 L675.0 205.0 L687.5 208.7 L700.0 213.7 L706.0 217.5 L712.5 222.5 L718.7 228.0 L725.0 233.7 L731.0 238.7 L737.5 243.7 L743.7 247.0 L750.0 248.7 L756.0 251.0 L762.0 253.7" stroke="#f45b5b"/>
<path d="M72.5 330.3 L83.3 320.3 L93.3 310.3 L103.3 303.7 L113.3 298.7 L123.3 294.5 L133.3 288.7 L143.3 282.0 L153.3 275.3 L163.3 268.7 L176.7 262.0 L186.7 256.2 L196.7 251.2 L206.7 247.0 L220.0 241.0 L230.0 236.7 L240.0 230.0 L248.3 221.7 L256.7 213.3 L266.7 203.3 L276.7 196.7 L286.7 195.8 L296.7 196.7 L303.3 200.0 L310.0 205.0 L316.7 205.8 L323.3 210.0 L333.3 214.2 L340.0 215.0 L350.0 212.5 L360.0 210.0 L370.0 206.7 L380.0 203.3 L390.0 197.0 L398.3 191.7 L405.0 183.3 L413.3 173.3 L421.7 166.7 L431.7 161.7 L441.7 156.7 L450.0 151.7 L460.0 143.3 L470.0 141.7 L480.0 140.8 L490.0 140.0 L500.0 138.3 L508.3 135.0 L516.7 130.8 L526.7 129.7 L533.3 132.5 L540.0 137.5 L546.7 142.5 L553.3 148.3 L560.0 155.0 L566.7 160.8 L573.3 164.2 L580.0 166.7 L588.3 168.3 L598.3 170.0 L610.0 172.5 L620.0 175.0 L630.0 178.3 L640.0 181.7 L650.0 185.8 L660.0 189.2 L670.0 190.8 L680.0 192.5 L690.0 193.0 L700.0 193.7 L710.0 197.0 L720.0 202.0 L727.5 207.0 L735.0 212.5 L742.5 217.5 L750.0 222.0 L756.0 225.0 L762.0 228.7" stroke="#f45b5b"/>
<path d="M72.5 328.7 L83.3 322.0 L93.3 313.7 L103.3 307.0 L113.3 302.0 L123.3 297.0 L133.3 290.3 L143.3 283.7 L153.3 278.7 L163.3 272.8 L173.3 267.0 L183.3 262.0 L193.3 256.2 L203.3 250.3 L213.3 245.3 L220.0 242.0 L230.0 235.0 L240.0 226.7 L250.0 218.3 L260.0 211.7 L270.0 206.7 L280.0 204.2 L290.0 203.3 L300.0 200.8 L310.0 199.2 L320.0 197.5 L330.0 196.7 L340.0 195.8 L350.0 194.2 L360.0 193.3 L370.0 194.2 L380.0 191.5 L390.0 185.0 L400.0 180.8 L410.0 179.2 L418.3 178.7 L428.3 181.7 L438.3 184.2 L448.3 185.0 L458.3 181.7 L468.3 179.2 L476.7 178.7 L486.7 180.0 L496.7 185.0 L505.0 190.0 L513.3 193.3 L521.7 194.2 L530.0 194.2 L540.0 193.3 L546.7 191.7 L553.3 191.7 L560.0 193.3 L568.3 197.5 L576.7 201.7 L583.3 204.2 L590.0 203.3 L596.7 200.8 L603.3 198.3 L615.0 196.0 L630.0 194.0 L640.0 194.0 L650.0 196.0 L662.5 205.6 L675.0 212.5 L687.5 217.5 L700.0 218.7 L707.5 218.5 L715.0 218.0 L722.5 218.5 L731.0 220.0 L737.5 223.0 L743.7 226.5 L750.0 229.4 L756.0 232.2 L762.0 234.6" stroke="#8085e9"/>
<path d="M72.5 353.0 L98.0 335.0 L115.0 318.0 L123.0 312.0 L150.0 300.0 L175.0 285.0 L200.0 271.0 L225.0 266.0 L250.0 261.0 L275.0 255.0 L300.0 252.0 L325.0 245.0 L337.5 237.5 L350.0 226.0 L362.5 217.5 L375.0 212.5 L400.0 207.5 L420.0 202.5 L450.0 198.0 L500.0 195.0 L539.0 197.5 L580.0 200.0 L620.0 203.0 L645.0 206.7 L680.0 222.0 L713.0 243.0 L726.7 253.0 L736.7 261.7 L753.0 270.0 L762.2 273.0" fill="none" stroke="#999" stroke-width="3.4" stroke-linejoin="round"/>
<path d="M72.5 336.0 L90.0 320.0 L110.0 304.0 L126.7 295.3 L135.0 294.5 L146.7 295.3 L156.7 294.5 L166.7 293.7 L176.7 294.5 L186.7 294.5 L196.7 290.3 L205.0 285.3 L213.3 280.3 L220.0 277.0 L240.0 268.0 L255.0 258.0 L268.0 247.0 L283.3 237.0 L293.3 233.7 L303.3 232.8 L313.3 233.7 L323.3 235.3 L333.3 234.5 L343.3 232.0 L353.3 227.0 L361.7 222.0 L370.0 218.7 L380.0 214.0 L400.0 208.0 L420.0 203.0 L440.0 199.0 L460.0 196.0 L480.0 193.0 L500.0 190.0 L520.0 187.0 L540.0 185.0 L548.3 181.7 L556.7 177.5 L565.0 175.0 L573.3 173.3 L580.0 172.5 L586.7 175.8 L593.3 180.0 L598.3 185.0 L606.7 193.0 L616.7 198.0 L626.7 197.0 L636.7 196.0 L646.7 197.5 L656.7 201.7 L665.0 206.7 L673.3 213.3 L680.0 220.0 L686.7 225.0 L693.3 228.3 L700.0 230.8 L712.0 232.0 L725.0 235.0 L737.5 241.0 L747.5 246.0 L762.0 255.0" stroke="#8085e9"/>
<path d="M78.3 332.0 L90.0 320.3 L100.0 313.7 L110.0 308.7 L120.0 303.7 L130.0 297.0 L140.0 290.3 L150.0 283.7 L160.0 279.5 L170.0 278.7 L180.0 275.3 L190.0 270.3 L200.0 263.7 L210.0 257.0 L220.0 250.0 L230.0 245.0 L240.0 238.3 L250.0 230.0 L260.0 223.3 L270.0 216.7 L280.0 210.0 L290.0 206.7 L300.0 204.2 L310.0 203.3 L320.0 203.3 L330.0 205.0 L340.0 207.5 L350.0 208.3 L360.0 205.8 L370.0 201.7 L380.0 197.5 L390.0 194.2 L400.0 195.0 L410.0 195.8 L420.0 197.5 L430.0 200.8 L440.0 204.2 L450.0 205.8 L460.0 205.0 L470.0 204.2 L480.0 204.2 L490.0 203.3 L500.0 200.0 L510.0 195.8 L520.0 191.7 L530.0 190.0 L540.0 190.0 L548.3 191.7 L556.7 195.8 L565.0 200.0 L573.3 204.2 L581.7 208.3 L590.0 213.3 L598.3 218.3 L606.7 221.7 L615.0 224.2 L623.3 226.7 L631.7 231.7 L640.0 238.3 L646.7 245.0 L653.3 251.7 L660.0 255.0 L667.5 261.0 L675.0 267.5 L682.5 271.0 L691.0 275.0 L700.0 278.7 L706.0 282.5 L712.5 287.0 L718.7 291.0 L725.0 293.7 L731.0 295.6 L737.5 296.0 L743.7 295.6 L750.0 295.0 L756.0 297.0 L762.0 299.4" stroke="#90ed7d"/>
<path d="M72.2 371.0 L88.0 365.0 L103.5 358.5 L122.0 347.0 L141.0 334.7 L146.7 332.0 L155.0 323.7 L163.3 313.7 L171.7 303.7 L180.0 298.7 L190.0 290.3 L198.3 283.7 L206.7 278.7 L215.0 274.5 L220.0 272.0 L230.0 268.7 L240.0 264.5 L250.0 258.7 L258.3 252.0 L266.7 245.3 L275.0 237.0 L283.3 230.3 L291.7 224.5 L298.3 223.7 L306.7 224.5 L315.0 223.7 L323.3 224.5 L333.3 222.0 L343.3 219.5 L353.3 218.3 L363.3 213.3 L373.3 207.5 L380.0 203.3 L390.0 201.7 L400.0 199.2 L410.0 196.7 L420.0 195.0 L430.0 195.0 L440.0 195.8 L450.0 197.5 L460.0 198.3 L470.0 197.5 L480.0 196.0 L490.0 194.0 L500.0 192.0 L510.0 190.0 L520.0 190.0 L535.0 193.0 L550.0 197.0 L562.0 201.0 L573.3 204.2 L580.0 201.7 L590.0 197.5 L598.3 195.0 L606.7 194.2 L615.0 193.3 L623.3 193.3 L631.7 195.0 L640.0 198.3 L648.3 204.2 L656.7 210.0 L666.0 215.0 L682.5 227.5 L691.0 236.0 L702.5 242.5 L712.5 247.5 L720.0 253.7 L727.5 260.0 L737.5 265.0 L747.5 266.0 L762.0 266.0" stroke="#90ed7d"/>
<path d="M78.3 333.7 L88.3 320.3 L98.3 307.0 L108.3 300.3 L118.3 298.7 L128.3 299.5 L138.3 298.7 L148.3 295.3 L158.3 290.3 L168.3 285.3 L178.3 280.3 L188.3 273.7 L198.3 267.0 L208.3 262.0 L220.0 258.7 L230.0 258.7 L240.0 258.7 L250.0 255.3 L260.0 250.3 L270.0 245.3 L280.0 240.3 L290.0 233.7 L300.0 227.0 L310.0 223.7 L320.0 222.0 L330.0 223.7 L340.0 222.0 L350.0 220.3 L360.0 222.0 L370.0 223.7 L380.0 221.5 L390.0 220.8 L400.0 220.0 L410.0 218.3 L420.0 216.7 L430.0 215.0 L440.0 212.5 L450.0 212.5 L460.0 212.5 L470.0 211.7 L480.0 212.5 L490.0 213.3 L500.0 213.3 L510.0 212.5 L520.0 213.3 L530.0 216.7 L540.0 221.7 L556.7 223.3 L566.7 221.7 L576.7 219.2 L586.7 217.5 L596.7 216.7 L606.7 218.3 L616.7 219.2 L626.7 218.3 L636.7 216.7 L643.3 213.3 L650.0 214.2 L656.7 216.7 L670.0 222.0 L685.0 232.0 L697.0 243.0 L705.0 255.0 L712.5 261.0 L720.0 267.5 L727.5 273.7 L735.0 278.0 L742.5 282.5 L748.7 287.5 L755.0 291.0 L762.0 295.0" stroke="#f15c80"/>
<path d="M72.2 371.6 L84.7 358.5 L97.0 343.5 L105.0 332.0 L115.0 323.7 L125.0 317.0 L135.0 313.7 L145.0 310.3 L155.0 303.7 L165.0 295.3 L173.3 287.0 L180.0 280.3 L186.7 273.7 L193.3 268.7 L200.0 267.0 L206.7 267.8 L213.3 271.2 L220.0 274.5 L226.7 277.8 L232.5 280.0 L238.3 276.2 L245.0 268.7 L253.3 260.3 L261.7 253.7 L271.7 250.3 L281.7 248.7 L291.7 247.8 L301.7 249.5 L310.0 250.3 L320.0 247.8 L330.0 243.7 L340.0 238.7 L350.0 234.5 L360.0 229.5 L370.0 223.7 L380.0 217.0 L388.3 211.7 L396.7 207.5 L406.7 205.0 L416.7 204.2 L426.7 202.5 L436.7 200.8 L446.7 198.3 L455.0 194.2 L463.3 191.7 L473.3 192.5 L483.3 195.0 L493.3 200.0 L503.3 205.0 L513.3 208.3 L523.3 210.8 L533.3 212.5 L540.0 211.7 L548.3 210.0 L556.7 205.0 L565.0 197.5 L573.3 191.7 L581.7 189.2 L590.0 189.2 L598.3 188.7 L606.7 189.2 L615.0 190.8 L623.3 192.5 L631.7 194.2 L640.0 197.5 L646.7 203.3 L651.7 210.0 L656.7 216.7 L663.3 223.3 L670.0 230.0 L676.7 235.0 L683.3 238.3 L690.0 241.7 L700.0 246.7 L702.5 250.0 L710.0 255.0 L717.5 258.7 L725.0 263.7 L732.5 270.0 L740.0 275.0 L747.5 278.7 L753.7 281.0 L762.0 283.7" stroke="#f7a35c"/>
<path d="M72.2 348.5 L84.7 342.0 L97.0 336.0 L109.7 329.5 L118.3 322.0 L126.7 313.7 L135.0 307.8 L145.0 302.0 L155.0 298.7 L163.3 295.3 L173.3 291.2 L181.7 290.3 L191.7 291.2 L198.3 290.3 L210.0 288.5 L220.0 287.0 L228.3 281.2 L236.7 275.3 L246.7 270.3 L256.7 265.3 L265.0 258.7 L273.3 254.5 L283.3 247.0 L293.3 242.0 L303.3 237.0 L313.3 232.0 L321.7 227.0 L326.7 223.3 L336.7 216.7 L346.7 212.5 L356.7 210.0 L366.7 207.5 L376.7 205.8 L390.0 203.0 L405.0 198.0 L418.0 193.0 L426.7 190.0 L436.7 186.7 L446.7 185.0 L456.7 185.0 L466.7 184.2 L476.7 183.3 L486.7 181.7 L496.7 185.0 L506.7 190.0 L513.3 196.7 L520.0 203.3 L526.7 207.5 L533.3 208.3 L540.0 208.3 L550.0 210.0 L560.0 210.8 L570.0 210.0 L580.0 206.7 L590.0 201.7 L598.3 197.5 L606.7 194.2 L615.0 192.5 L623.3 191.7 L631.7 190.8 L640.0 190.0 L648.3 190.0 L656.7 190.8 L665.0 192.5 L673.3 195.8 L681.7 200.0 L690.0 202.5 L700.0 203.7 L706.0 207.0 L712.5 210.0 L718.7 212.7 L725.0 213.5 L731.0 213.0 L737.5 214.0 L743.7 215.2 L750.0 217.5 L756.0 222.0 L762.0 226.2" stroke="#91e8e1"/>
<path d="M72.2 357.0 L84.7 351.0 L97.0 343.5 L107.0 333.0 L116.0 320.0 L122.0 313.0 L130.0 308.0 L146.7 301.0 L156.7 297.0 L166.7 294.5 L176.7 292.0 L186.7 287.0 L196.7 280.3 L205.0 273.7 L213.3 269.5 L220.0 267.0 L228.3 264.5 L236.7 262.8 L246.7 261.7 L256.7 260.3 L266.7 253.7 L276.7 245.3 L286.7 235.3 L295.0 226.7 L303.3 215.0 L311.7 208.3 L321.7 205.8 L331.7 204.2 L341.7 203.3 L351.7 200.0 L361.7 195.8 L371.7 190.0 L380.0 187.5 L388.3 189.2 L396.7 191.7 L406.7 195.0 L416.7 195.8 L426.7 194.2 L436.7 191.7 L446.7 190.0 L455.0 190.8 L463.3 193.3 L470.0 197.5 L476.7 201.7 L483.3 205.8 L490.0 208.3 L500.0 209.2 L510.0 209.2 L520.0 208.3 L530.0 205.0 L540.0 200.8 L548.3 197.5 L556.7 195.0 L565.0 191.7 L573.3 187.5 L581.7 185.8 L590.0 185.8 L598.3 185.3 L606.7 187.5 L613.3 190.8 L620.0 196.7 L625.0 202.5 L630.0 208.3 L636.7 212.5 L643.3 215.0 L650.0 216.7 L656.7 219.2 L663.3 223.3 L670.0 228.3 L676.7 232.5 L683.3 235.0 L690.0 235.8 L700.0 236.0 L710.0 245.0 L720.0 255.0 L730.0 265.0 L740.0 275.0 L752.5 288.7 L762.0 293.7" stroke="#2b908f"/>
<path d="M72.2 368.5 L84.7 356.0 L97.0 343.5 L103.5 338.5 L116.0 333.5 L130.0 327.0 L140.0 322.0 L150.0 319.5 L160.0 318.7 L170.0 317.0 L180.0 313.7 L188.3 307.0 L195.0 298.7 L201.7 290.3 L210.0 280.3 L216.7 273.7 L220.0 270.3 L230.0 267.0 L240.0 263.7 L250.0 262.0 L260.0 260.3 L270.0 257.0 L280.0 252.8 L290.0 251.2 L300.0 250.3 L310.0 248.5 L313.3 245.8 L323.3 243.3 L333.3 238.3 L343.3 231.7 L353.3 225.0 L361.7 218.3 L370.0 211.7 L376.7 208.3 L380.0 205.0 L393.3 201.7 L406.7 198.3 L420.0 193.3 L430.0 190.0 L438.3 188.3 L446.7 190.0 L455.0 193.3 L463.3 196.7 L470.0 200.0 L480.0 201.7 L490.0 200.8 L500.0 199.2 L510.0 198.3 L520.0 197.5 L530.0 197.5 L540.0 198.3 L550.0 196.7 L560.0 196.7 L570.0 198.3 L580.0 201.7 L590.0 205.8 L598.3 209.2 L606.7 210.8 L615.0 211.7 L623.3 213.3 L630.0 214.2 L636.7 213.3 L643.3 216.7 L650.0 221.7 L656.7 225.0 L663.3 226.7 L673.3 229.2 L683.3 230.8 L693.3 232.5 L700.0 232.5 L712.5 230.0 L725.0 228.0 L737.5 230.0 L750.0 233.7 L762.0 238.0" stroke="#434348"/>
<path d="M72.2 381.0 L84.7 377.0 L97.0 372.0 L103.5 368.5 L109.7 361.0 L118.5 349.7 L126.0 338.5 L133.5 329.7 L141.0 324.5 L153.5 321.5 L160.0 320.8 L170.0 319.3 L180.0 316.3 L188.3 310.0 L195.0 302.0 L201.7 294.0 L210.0 284.5 L216.7 278.0 L220.0 274.5 L230.0 272.0 L240.0 271.2 L250.0 270.3 L260.0 265.3 L270.0 258.7 L280.0 255.3 L290.0 253.7 L300.0 252.8 L310.0 250.3 L320.0 247.0 L330.0 242.0 L340.0 235.3 L350.0 227.8 L360.0 222.0 L370.0 218.7 L380.0 213.3 L390.0 210.0 L400.0 209.2 L410.0 209.2 L420.0 207.5 L428.3 203.3 L436.7 196.7 L445.0 191.7 L453.3 188.3 L461.7 185.0 L470.0 183.3 L480.0 183.0 L488.3 184.2 L496.7 187.5 L505.0 190.0 L513.3 190.0 L521.7 189.2 L530.0 188.3 L540.0 186.0 L548.3 182.5 L556.7 181.7 L565.0 184.2 L573.3 188.3 L578.3 190.0 L586.7 191.7 L596.7 192.0 L606.7 191.7 L616.7 192.5 L626.7 193.3 L636.7 194.2 L646.7 197.5 L656.7 203.3 L663.3 208.3 L670.0 213.3 L676.7 217.5 L685.0 220.0 L693.3 220.8 L700.0 220.8 L706.0 225.0 L712.5 230.0 L722.5 236.0 L731.0 242.5 L740.0 247.5 L750.0 251.0 L756.0 255.0 L762.0 258.7" stroke="#434348"/>
<path d="M72.5 385.0 L81.7 380.0 L93.3 371.7 L105.0 363.3 L116.7 353.3 L126.7 345.0 L136.7 338.3 L150.0 327.0 L160.0 326.2 L168.3 327.0 L176.7 323.7 L183.3 315.3 L191.7 303.7 L200.0 295.3 L208.3 288.7 L216.7 283.7 L220.0 282.0 L228.3 275.3 L236.7 267.0 L245.0 258.7 L253.3 252.0 L263.3 247.0 L273.3 244.5 L283.3 242.0 L293.3 237.0 L303.3 231.2 L313.3 227.0 L323.3 226.2 L333.3 226.2 L343.3 229.5 L353.3 234.5 L363.3 238.7 L373.3 240.3 L380.0 240.3 L390.0 236.7 L400.0 231.7 L410.0 226.7 L420.0 221.7 L430.0 218.3 L440.0 215.0 L450.0 211.7 L458.3 209.2 L466.7 206.7 L480.0 205.0 L500.0 207.0 L520.0 211.0 L540.0 213.0 L550.0 218.3 L560.0 225.0 L570.0 230.0 L580.0 233.3 L590.0 235.8 L600.0 235.8 L610.0 235.0 L620.0 234.2 L630.0 230.8 L640.0 230.0 L650.0 230.8 L665.0 238.0 L680.0 247.0 L695.0 256.0 L710.0 262.0 L725.0 267.0 L740.0 272.0 L752.0 277.0 L762.0 281.0" stroke="#7cb5ec"/>
<path d="M72.2 353.0 L84.7 348.5 L97.0 344.0 L109.7 339.7 L122.0 333.5 L131.0 331.0 L141.0 331.6 L153.5 327.0 L160.0 323.7 L170.0 320.3 L180.0 315.3 L190.0 307.0 L200.0 303.7 L210.0 300.3 L220.0 295.3 L230.0 288.7 L240.0 285.3 L250.0 282.0 L260.0 277.0 L270.0 272.0 L280.0 265.3 L290.0 260.3 L300.0 255.3 L310.0 248.7 L318.3 240.3 L326.7 230.3 L333.3 225.3 L341.7 224.5 L351.7 225.3 L361.7 227.8 L370.0 228.7 L380.0 225.3 L388.3 221.7 L396.7 215.0 L401.7 210.0 L410.0 205.5 L418.0 204.0 L425.0 206.7 L433.3 213.3 L443.3 220.0 L453.3 221.7 L463.3 221.7 L473.3 220.0 L483.3 217.5 L493.3 215.8 L503.3 214.2 L513.3 213.3 L523.3 215.0 L533.3 218.3 L540.0 221.7 L556.7 226.7 L573.3 233.3 L583.3 238.3 L595.0 240.8 L606.7 240.0 L616.7 241.7 L626.7 246.7 L636.7 245.0 L646.7 242.5 L656.7 244.2 L662.0 249.0 L667.5 255.0 L675.0 266.0 L682.5 276.0 L688.7 283.0 L696.0 288.7 L703.7 292.5 L712.5 295.0 L720.0 297.5 L727.5 298.7 L735.0 300.0 L742.5 302.5 L750.0 306.0 L756.0 309.0 L762.0 310.6" stroke="#e4d354"/>
<path d="M72.2 346.0 L78.5 336.0 L84.7 327.0 L91.0 317.0 L97.0 307.0 L105.0 298.0 L115.0 291.0 L125.0 284.0 L140.0 272.0 L155.0 262.0 L170.0 254.0 L185.0 247.0 L200.0 238.0 L210.0 231.0 L220.0 220.0 L230.0 217.5 L240.0 218.3 L250.0 219.2 L260.0 220.8 L270.0 220.8 L280.0 219.2 L290.0 213.3 L300.0 205.0 L308.3 196.7 L315.0 190.0 L321.7 183.3 L328.3 178.3 L335.0 174.2 L343.3 171.7 L353.3 171.3 L363.3 170.8 L373.3 169.2 L380.0 168.0 L390.0 163.3 L400.0 160.0 L410.0 158.0 L420.0 156.7 L430.0 155.8 L440.0 155.8 L450.0 155.0 L460.0 153.3 L470.0 152.5 L480.0 150.8 L490.0 150.0 L500.0 148.3 L510.0 145.0 L520.0 142.5 L530.0 143.3 L540.0 147.5 L546.7 151.7 L553.3 156.7 L560.0 161.7 L566.7 166.7 L573.3 170.8 L581.7 171.7 L590.0 172.5 L600.0 175.8 L610.0 179.2 L620.0 181.7 L630.0 183.7 L640.0 185.3 L650.0 186.3 L660.0 187.5 L670.0 190.0 L678.3 195.0 L686.7 200.0 L693.3 203.3 L700.0 207.0 L706.0 213.0 L712.5 218.0 L720.0 220.6 L727.5 223.0 L735.0 228.0 L742.5 232.5 L750.0 236.2 L756.0 239.4 L762.0 241.5" stroke="#e4d354"/>
<path d="M72.5 408.0 L90.0 395.0 L105.0 384.0 L122.0 371.0 L141.0 356.0 L153.5 344.7 L163.3 333.7 L173.3 323.7 L183.3 315.3 L193.3 312.0 L203.3 309.5 L213.3 307.8 L220.0 309.5 L230.0 310.3 L240.0 310.3 L250.0 307.0 L260.0 302.0 L268.3 295.3 L276.7 288.7 L286.7 283.7 L296.7 279.5 L306.7 275.3 L315.0 268.7 L323.3 261.2 L333.3 256.2 L343.3 255.7 L353.3 256.7 L361.7 255.3 L370.0 251.2 L380.0 248.3 L388.3 247.5 L396.7 250.0 L405.0 254.2 L413.3 255.8 L423.3 255.0 L431.7 253.3 L440.0 246.7 L448.3 238.3 L455.0 231.7 L461.7 229.2 L470.0 228.3 L480.0 228.3 L488.3 230.8 L496.7 235.0 L503.3 240.0 L511.7 246.7 L518.3 250.8 L525.0 251.7 L533.3 250.0 L540.0 249.2 L550.0 246.7 L560.0 244.2 L570.0 242.5 L580.0 240.8 L590.0 238.3 L600.0 237.5 L610.0 238.3 L616.7 240.8 L623.3 244.2 L630.0 246.7 L640.0 248.3 L650.0 253.7 L660.0 260.6 L670.0 261.0 L678.7 262.0 L687.5 262.5 L695.0 265.0 L703.7 268.0 L712.5 270.6 L720.0 272.5 L727.5 275.0 L735.0 277.0 L742.5 278.7 L750.0 281.0 L756.0 283.7 L762.0 285.6" stroke="#1f5a7a"/>
<path d="M72.5 413.0 L85.0 404.0 L100.0 394.0 L116.0 383.5 L128.5 376.0 L141.0 363.5 L153.5 353.5 L166.0 348.5 L178.5 342.0 L185.6 337.0 L203.3 332.0 L210.0 323.7 L216.7 313.7 L220.0 308.7 L226.7 297.0 L235.0 287.0 L243.3 282.0 L253.3 279.5 L263.3 279.5 L273.3 278.7 L283.3 276.2 L293.3 270.3 L303.3 263.7 L313.3 258.7 L323.3 253.7 L333.3 250.3 L343.3 247.0 L348.3 246.2 L355.0 247.8 L361.7 252.0 L370.0 255.3 L380.0 255.0 L390.0 251.7 L400.0 243.3 L410.0 233.3 L420.0 223.3 L428.3 219.2 L438.3 217.5 L448.3 218.0 L458.3 217.5 L468.3 220.0 L478.3 221.7 L488.3 221.3 L498.3 220.8 L508.3 219.2 L518.3 217.5 L528.3 215.8 L535.0 215.0 L540.0 217.5 L548.3 220.0 L556.7 224.2 L565.0 226.7 L573.3 227.5 L583.3 226.7 L593.3 225.8 L603.3 226.3 L613.3 227.5 L623.3 230.0 L633.3 233.3 L643.3 235.8 L653.3 237.5 L663.3 240.0 L671.7 244.2 L678.3 249.2 L685.0 255.0 L691.0 258.0 L700.0 260.0 L710.0 259.4 L717.5 260.0 L725.0 263.7 L731.0 268.7 L737.5 273.7 L743.7 280.0 L750.0 286.0 L756.0 292.5 L762.0 297.0" stroke="#6b0046"/>
<path d="M72.5 420.8 L85.0 416.7 L98.3 411.7 L110.0 405.8 L118.3 400.0 L126.7 393.3 L135.0 386.7 L143.3 380.0 L153.3 371.7 L163.3 365.0 L173.3 356.7 L183.3 348.3 L193.3 340.0 L203.3 333.3 L210.0 329.0 L220.0 324.2 L230.0 318.3 L240.0 312.5 L250.0 306.7 L256.7 305.0 L266.7 303.3 L276.7 301.7 L286.7 299.2 L296.7 295.8 L306.7 292.5 L313.3 290.0 L323.3 284.5 L333.3 278.7 L343.3 272.8 L353.3 267.8 L363.3 263.7 L373.3 257.8 L380.0 256.2 L390.0 258.0 L400.0 259.0 L413.3 255.0 L423.3 246.7 L433.3 238.3 L443.3 232.5 L451.7 230.8 L460.0 232.5 L470.0 235.8 L480.0 238.3 L488.3 240.0 L496.7 238.3 L506.7 235.0 L516.7 231.7 L526.7 229.2 L536.7 227.5 L540.0 226.7 L550.0 229.2 L560.0 232.5 L570.0 235.0 L580.0 238.3 L588.3 242.5 L596.7 246.7 L606.7 248.3 L616.7 247.5 L626.7 246.7 L636.7 248.3 L646.7 251.7 L657.5 255.0 L665.0 260.0 L672.5 265.0 L680.0 267.5 L687.5 269.4 L695.0 270.6 L702.5 271.0 L710.0 273.0 L717.5 275.6 L725.0 278.7 L731.0 282.5 L737.5 286.0 L743.7 290.0 L750.0 295.0 L756.0 300.0 L762.0 303.7" stroke="#f15c80"/>
<path d="M72.2 378.5 L84.7 371.0 L97.0 366.0 L109.7 362.0 L122.0 356.0 L134.7 346.0 L147.0 336.0 L153.3 332.0 L163.3 325.3 L173.3 318.7 L183.3 317.0 L193.3 312.0 L203.3 307.0 L213.3 304.5 L220.0 302.8 L228.3 303.7 L236.7 301.2 L246.7 299.5 L256.7 298.7 L266.7 297.0 L276.7 296.2 L286.7 292.8 L296.7 287.0 L306.7 281.2 L316.7 273.7 L326.7 266.2 L336.7 257.0 L346.7 247.0 L356.7 241.2 L366.7 238.7 L380.0 238.5 L390.0 235.0 L400.0 230.8 L410.0 228.3 L420.0 226.7 L430.0 225.8 L440.0 225.0 L450.0 225.8 L460.0 228.3 L470.0 231.7 L478.3 235.0 L486.7 235.8 L496.7 233.3 L503.3 228.3 L510.0 223.3 L516.7 221.7 L523.3 223.3 L530.0 225.8 L540.0 230.0 L546.7 240.0 L553.3 245.0 L560.0 246.7 L570.0 245.0 L580.0 243.3 L590.0 246.7 L600.0 250.0 L610.0 250.0 L620.0 246.7 L630.0 243.3 L640.0 246.0 L650.0 250.0 L665.0 258.0 L675.0 263.7 L682.5 267.5 L690.0 271.0 L697.5 275.6 L705.0 281.0 L712.5 288.7 L717.5 293.7 L722.5 300.0 L727.5 307.5 L732.5 315.0 L737.5 322.5 L742.5 330.0 L747.5 335.0 L752.5 337.5 L757.5 338.7 L762.0 340.6" stroke="#8085e9"/>
<path d="M72.5 410.0 L90.0 398.0 L108.5 383.5 L122.0 373.5 L136.0 363.5 L147.0 356.0 L161.0 348.5 L173.5 344.7 L185.0 340.0 L200.0 336.3 L221.7 334.2 L236.7 330.8 L253.3 324.2 L263.3 322.5 L276.7 319.0 L290.0 313.0 L300.0 306.0 L313.0 303.0 L326.7 300.3 L336.7 290.3 L346.7 283.7 L356.7 278.7 L366.7 272.0 L375.0 265.3 L380.0 262.0 L395.0 260.0 L410.0 259.0 L420.0 258.0 L433.3 256.7 L443.3 255.0 L453.3 251.7 L463.3 243.3 L471.7 235.0 L480.0 228.3 L488.3 225.8 L496.7 225.0 L505.0 225.8 L513.3 229.2 L521.7 230.8 L530.0 230.0 L540.0 231.7 L550.0 230.0 L560.0 228.3 L570.0 228.3 L580.0 230.0 L590.0 231.7 L600.0 230.8 L610.0 229.2 L620.0 226.7 L630.0 223.3 L640.0 218.3 L650.0 216.7 L658.3 217.5 L666.7 221.7 L675.0 223.7 L687.5 231.0 L700.0 237.5 L710.0 245.0 L717.5 251.0 L725.0 256.0 L735.0 261.0 L745.0 267.5 L753.7 272.5 L762.0 277.0" stroke="#c262b4"/>
<path d="M72.0 402.0 L77.5 391.0 L85.0 383.5 L92.5 379.7 L102.5 378.0 L110.0 377.0 L117.5 373.5 L125.0 367.0 L132.5 359.7 L140.0 352.0 L147.5 347.0 L155.0 344.0 L162.5 344.0 L170.0 347.0 L177.5 352.0 L185.0 356.0 L192.5 357.0 L200.0 354.7 L207.5 349.7 L215.0 343.5 L225.0 336.0 L235.0 331.5 L245.0 328.5 L255.0 327.0 L265.0 324.7 L275.0 322.0 L285.0 319.7 L299.0 317.0 L305.0 313.5 L315.0 306.0 L325.0 298.5 L335.0 292.0 L345.0 287.0 L355.0 279.7 L365.0 272.0 L375.0 268.0 L385.0 266.0 L400.0 265.0 L412.5 262.5 L425.0 258.7 L435.0 255.0 L445.0 250.0 L455.0 243.7 L462.5 236.0 L470.0 230.0 L477.5 223.7 L485.0 220.0 L495.0 220.0 L505.0 221.0 L515.0 222.5 L525.0 225.0 L539.0 227.5 L545.0 226.0 L555.0 222.5 L562.5 217.5 L570.0 214.5 L580.0 215.0 L590.0 217.5 L600.0 221.0 L610.0 223.7 L620.0 226.0 L630.0 227.0 L640.0 227.0 L650.0 226.0 L660.0 227.5 L670.0 228.7 L680.0 232.5 L687.5 237.5 L695.0 243.7 L702.5 248.7 L710.0 253.7 L717.5 257.5 L725.0 261.0 L732.5 263.7 L740.0 267.0 L761.0 268.5" stroke="#0b5d2e" stroke-dasharray="8 6" stroke-linecap="butt" stroke-width="2.6"/>
</g>
<rect x="69.5" y="674.1" width="692.7" height="1.2" fill="#ccd6eb"/>
<rect x="70.7" y="674.5" width="1.2" height="9.5" fill="#ccd6eb"/>
<rect x="269.7" y="674.5" width="1.2" height="9.5" fill="#ccd6eb"/>
<rect x="449.7" y="674.5" width="1.2" height="9.5" fill="#ccd6eb"/>
<rect x="647.0" y="674.5" width="1.2" height="9.5" fill="#ccd6eb"/>
</svg>
<div class="t title">Arctic Sea Ice Extent</div>
<div class="t sub">(Area of Ocean with at least 15% sea ice)</div>
<div class="t yl" style="top:60.6px">17</div>
<div class="t yl" style="top:147.3px">16</div>
<div class="t yl" style="top:234.1px">15</div>
<div class="t yl" style="top:320.8px">14</div>
<div class="t yl" style="top:407.4px">13</div>
<div class="t yl" style="top:494.1px">12</div>
<div class="t yl" style="top:580.9px">11</div>
<div class="t yl" style="top:667.5px">10</div>
<div class="t xl" style="left:72.5px">1 Jan</div>
<div class="t xl" style="left:270.3px">1 Feb</div>
<div class="t xl" style="left:450.3px">1 Mar</div>
<div class="t xl" style="left:647.6px">1 Apr</div>
<div class="t ytitle">Extent (Millions of square kilometers)</div>
<div class="t credits">National Snow and Ice Data Center, Boulder, CO</div>
<div class="btn"><span>Reset zoom</span></div>
<div class="legend">
<div class="ls" style="top:11.6px;height:2px;background:#f98462"></div><div class="li" style="top:8.9px">2011</div>
<div class="ls" style="top:29.6px;width:8px;height:2.4px;background:#0b5d2e"></div><div class="ls" style="top:29.6px;left:20.4px;width:2px;height:2.4px;background:#0b5d2e"></div><div class="li" style="top:27.1px">2012</div>
<div class="ls" style="top:47.6px;height:2px;background:#f15c80"></div><div class="li" style="top:45.2px">2013</div>
<div class="ls" style="top:65.6px;height:2px;background:#e4d354"></div><div class="li" style="top:63.3px">2014</div>
<div class="ls" style="top:84.6px;height:2px;background:#2b908f"></div><div class="li" style="top:81.5px">2015</div>
<div class="ls" style="top:102.6px;height:2px;background:#f45b5b"></div><div class="li" style="top:99.6px">2016</div>
<div class="ls" style="top:120.6px;height:2px;background:#91e8e1"></div><div class="li" style="top:117.8px">2017</div>
<div class="ls" style="top:138.6px;height:2px;background:#7cb5ec"></div><div class="li" style="top:135.9px">2018</div>
<div class="ls" style="top:151.8px;height:12.4px;background:#6b84a3"></div><div class="li" style="top:154.1px;color:#222;letter-spacing:-0.35px">Show all</div>
<div class="ls" style="top:169.9px;height:12.4px;background:#cccccc"></div><div class="li" style="top:172.2px;color:#cccccc;letter-spacing:-0.35px">Hide all</div>
<svg style="position:absolute;right:0.2px;top:2.9px" width="20" height="16" viewBox="0 0 20 16"><g stroke="#666" stroke-width="2.6" stroke-linecap="round"><path d="M2.5 2.5h15M2.5 7.5h15M2.5 12.5h15"/></g></svg>
</div>
</body></html>
